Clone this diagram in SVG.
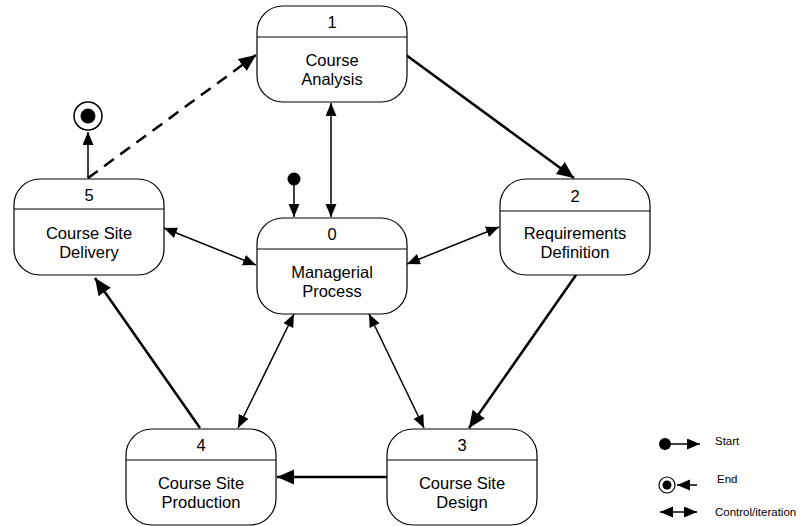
<svg xmlns="http://www.w3.org/2000/svg" width="800" height="526" viewBox="0 0 800 526">
<style>
.box{fill:#fff;stroke:#000;stroke-width:1.2}
.div{stroke:#000;stroke-width:1.2}
text{font-family:"Liberation Sans",Arial,sans-serif;fill:#000}
.lbl{font-size:16.5px;text-anchor:middle}
.leg{font-size:11.5px}
.thick{stroke:#000;stroke-width:2.5;fill:none}
.thin{stroke:#000;stroke-width:1.5;fill:none}
.dash{stroke:#000;stroke-width:2.5;fill:none;stroke-dasharray:12 8}
</style>
<defs>
<marker id="big" markerUnits="userSpaceOnUse" markerWidth="18" markerHeight="16" refX="17" refY="7.5" orient="auto"><path d="M0,0 L17,7.5 L0,15 z" fill="#000"/></marker>
<marker id="sm" markerUnits="userSpaceOnUse" markerWidth="14" markerHeight="12" refX="13" refY="5.5" orient="auto-start-reverse"><path d="M0,0 L13,5.5 L0,11 z" fill="#000"/></marker>
</defs>
<g id="connectors">
<line class="thin" x1="331" y1="103" x2="331" y2="217" marker-start="url(#sm)" marker-end="url(#sm)"/>
<line class="thick" x1="406" y1="55" x2="574" y2="178" marker-end="url(#big)"/>
<line class="dash" x1="88" y1="178" x2="256" y2="55" marker-end="url(#big)"/>
<line class="thin" x1="88" y1="178" x2="88" y2="132" marker-end="url(#sm)"/>
<line class="thin" x1="294" y1="180" x2="294" y2="217" marker-end="url(#sm)"/>
<line class="thin" x1="164" y1="228" x2="256" y2="265" marker-start="url(#sm)" marker-end="url(#sm)"/>
<line class="thin" x1="407" y1="264" x2="499" y2="227" marker-start="url(#sm)" marker-end="url(#sm)"/>
<line class="thin" x1="294" y1="314" x2="238" y2="428" marker-start="url(#sm)" marker-end="url(#sm)"/>
<line class="thin" x1="369" y1="314" x2="424" y2="428" marker-start="url(#sm)" marker-end="url(#sm)"/>
<line class="thick" x1="576" y1="275" x2="469" y2="428" marker-end="url(#big)"/>
<line class="thick" x1="387" y1="477" x2="277" y2="477" marker-end="url(#big)"/>
<line class="thick" x1="200" y1="428" x2="95" y2="278" marker-end="url(#big)"/>
</g>
<g id="start">
<circle cx="294" cy="179" r="6.5" fill="#000"/>
</g>
<g id="end">
<circle cx="88" cy="116" r="14" fill="#fff" stroke="#000" stroke-width="1.5"/>
<circle cx="88" cy="116" r="7.5" fill="#000"/>
</g>
<g id="node1">
<rect class="box" x="257" y="6" width="150" height="96" rx="26" ry="26"/>
<line class="div" x1="257" y1="37" x2="407" y2="37"/>
<text class="lbl" x="332" y="28">1</text>
<text class="lbl" x="332" y="66">Course</text>
<text class="lbl" x="332" y="85">Analysis</text>
</g>
<g id="node0">
<rect class="box" x="257" y="218" width="150" height="96" rx="26" ry="26"/>
<line class="div" x1="257" y1="249" x2="407" y2="249"/>
<text class="lbl" x="332" y="240">0</text>
<text class="lbl" x="332" y="278">Managerial</text>
<text class="lbl" x="332" y="297">Process</text>
</g>
<g id="node2">
<rect class="box" x="500" y="179" width="150" height="96" rx="26" ry="26"/>
<line class="div" x1="500" y1="211" x2="650" y2="211"/>
<text class="lbl" x="575" y="202">2</text>
<text class="lbl" x="575" y="239">Requirements</text>
<text class="lbl" x="575" y="258">Definition</text>
</g>
<g id="node5">
<rect class="box" x="14" y="179" width="150" height="96" rx="26" ry="26"/>
<line class="div" x1="14" y1="209" x2="164" y2="209"/>
<text class="lbl" x="89" y="201">5</text>
<text class="lbl" x="89" y="239">Course Site</text>
<text class="lbl" x="89" y="258">Delivery</text>
</g>
<g id="node4">
<rect class="box" x="126" y="429" width="150" height="96" rx="26" ry="26"/>
<line class="div" x1="126" y1="460" x2="276" y2="460"/>
<text class="lbl" x="201" y="451">4</text>
<text class="lbl" x="201" y="489">Course Site</text>
<text class="lbl" x="201" y="508">Production</text>
</g>
<g id="node3">
<rect class="box" x="387" y="429" width="150" height="96" rx="26" ry="26"/>
<line class="div" x1="387" y1="460" x2="537" y2="460"/>
<text class="lbl" x="462" y="451">3</text>
<text class="lbl" x="462" y="489">Course Site</text>
<text class="lbl" x="462" y="508">Design</text>
</g>
<g id="legend">
<circle cx="665" cy="444" r="6" fill="#000"/>
<line class="thin" x1="665" y1="444" x2="700" y2="444" marker-end="url(#sm)"/>
<text class="leg" x="715" y="445">Start</text>
<circle cx="667" cy="485" r="8" fill="#fff" stroke="#000" stroke-width="1.2"/>
<circle cx="667" cy="485" r="4.5" fill="#000"/>
<line class="thin" x1="697" y1="485" x2="677" y2="485" marker-end="url(#sm)"/>
<text class="leg" x="717" y="483">End</text>
<line class="thin" x1="660" y1="512" x2="697" y2="512" marker-start="url(#sm)" marker-end="url(#sm)"/>
<text class="leg" x="715" y="516">Control/iteration</text>
</g>
</svg>
